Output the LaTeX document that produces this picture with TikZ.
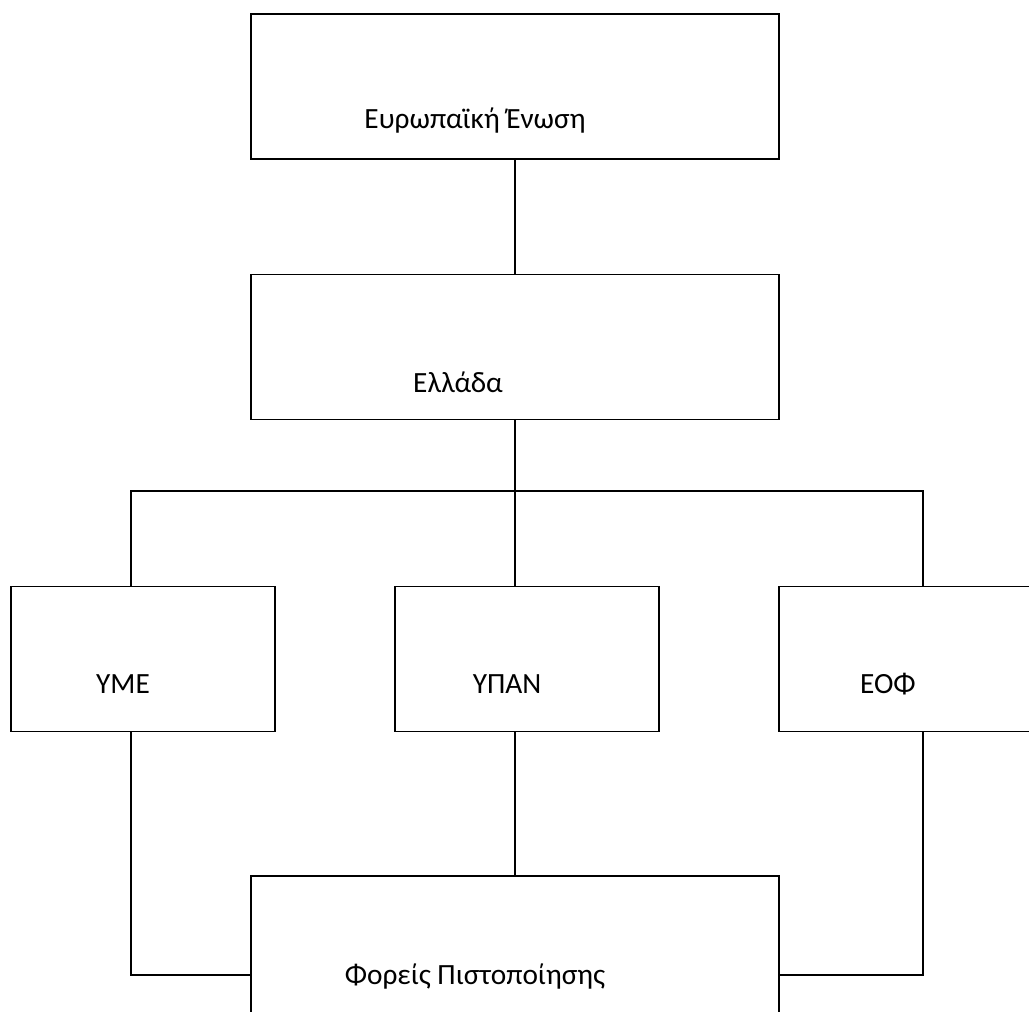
\documentclass[tikz,border=0pt]{standalone}
\usepackage{fontspec}
\setmainfont{Carlito}
\usetikzlibrary{positioning}

\begin{document}
\begin{tikzpicture}[x=0.75pt,y=-0.75pt,line width=1.2pt,
    orgbox/.style={draw,rectangle,minimum width=396pt,minimum height=108.5pt,inner sep=0pt},
    unitbox/.style={orgbox,minimum width=198pt},
    lbl/.style={anchor=base,font=\fontsize{22}{26}\selectfont}]
    \useasboundingbox (0,0) rectangle (1029,1012);
    \clip (0,0) rectangle (1029,1012);

    \node[orgbox] (eu) at (515,86.5) {};
    \node[lbl] (eutext) at (475,129) {Ευρωπαϊκή Ένωση};
    \node[orgbox] (gr) at (515,347) {};
    \node[lbl] (grtext) at (458,393) {Ελλάδα};

    \node[unitbox] (yme) at (143,659) {};
    \node[lbl] (ymetext) at (123,693) {ΥΜΕ};
    \node[unitbox] (ypan) at (527,659) {};
    \node[lbl] (ypantext) at (507,693) {ΥΠΑΝ};
    \node[unitbox] (eof) at (911,659) {};
    \node[lbl] (eoftext) at (888,693) {ΕΟΦ};

    \node[orgbox] (cert) at (515,948.5) {};
    \node[lbl] (certtext) at (475,984) {Φορείς Πιστοποίησης};

    \coordinate (bus) at (515,491);

    % lines
    \draw (eu.south) -- (gr.north);
    \draw (gr.south) -- (bus);
    \draw (bus) -| ([xshift=-9pt]yme.north);
    \draw (bus) -| ([xshift=9pt]eof.north);
    \draw (bus) -- ([xshift=-9pt]ypan.north);
    \draw ([xshift=-9pt]yme.south) |- ([yshift=-19.9pt]cert.west);
    \draw ([xshift=9pt]eof.south) |- ([yshift=-19.9pt]cert.east);
    \draw ([xshift=-9pt]ypan.south) -- (cert.north);
\end{tikzpicture}
\end{document}
